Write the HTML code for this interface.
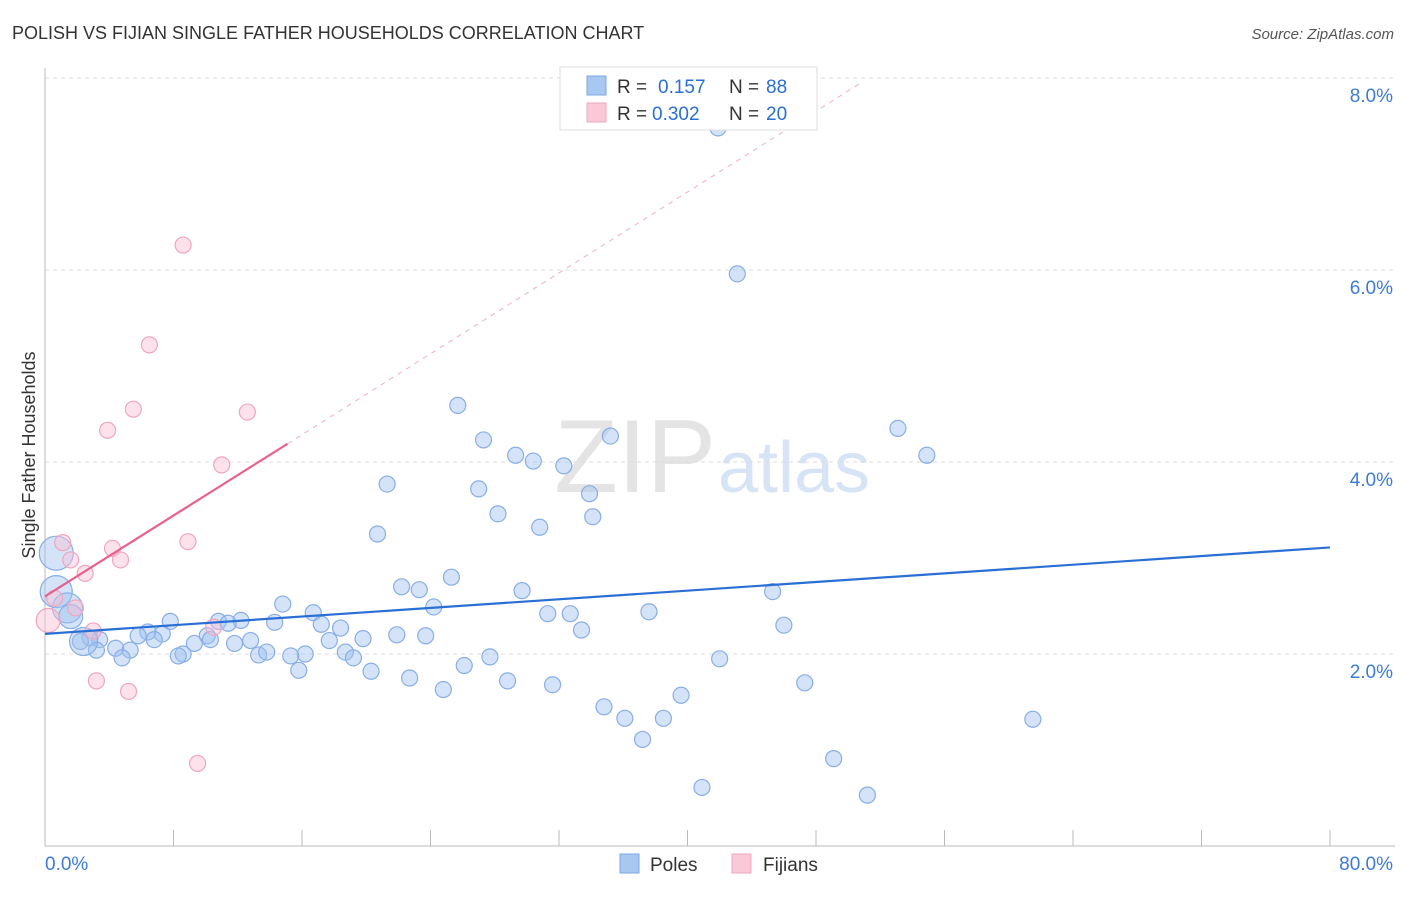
<!DOCTYPE html>
<html><head><meta charset="utf-8"><style>
body{margin:0;background:#fff;font-family:"Liberation Sans",sans-serif;}
svg text{font-family:"Liberation Sans",sans-serif;}
</style></head><body>
<svg id="c" width="1406" height="892">
<text x="12" y="39" font-size="18" fill="#333">POLISH VS FIJIAN SINGLE FATHER HOUSEHOLDS CORRELATION CHART</text>
<text x="1394" y="39" font-size="15" fill="#555" font-style="italic" text-anchor="end">Source: ZipAtlas.com</text>
<text x="716" y="492" font-size="104" fill="#e4e4e4" text-anchor="end" font-family="Liberation Serif">ZIP</text>
<text x="718" y="492" font-size="72" fill="#d6e4f6">atlas</text>
<text x="-455" y="35" transform="rotate(-90)" font-size="18" fill="#333" text-anchor="middle">Single Father Households</text>
<g id="grid"></g><g id="marks"></g>
<g>
<rect x="560" y="67" width="257" height="63" fill="#fff" stroke="#ddd"/>
<rect x="587" y="76" width="19" height="19" fill="#a8c8f2" stroke="#7da7e0"/>
<text x="617" y="93" font-size="19" fill="#333">R =</text><text x="658" y="93" font-size="19" fill="#2a6fd6">0.157</text>
<text x="729" y="93" font-size="19" fill="#333">N =</text><text x="766" y="93" font-size="19" fill="#2a6fd6">88</text>
<rect x="587" y="103" width="19" height="19" fill="#fbc8d8" stroke="#eca7bf"/>
<text x="617" y="120" font-size="19" fill="#333">R =</text><text x="652" y="120" font-size="19" fill="#2a6fd6">0.302</text>
<text x="729" y="120" font-size="19" fill="#333">N =</text><text x="766" y="120" font-size="19" fill="#2a6fd6">20</text>
</g>
<g>
<rect x="620" y="854" width="19" height="19" fill="#a8c8f2" stroke="#7da7e0"/>
<text x="650" y="871" font-size="19" fill="#333">Poles</text>
<rect x="732" y="854" width="19" height="19" fill="#fbc8d8" stroke="#eca7bf"/>
<text x="763" y="871" font-size="19" fill="#333">Fijians</text>
</g>
</svg>
<script>
const yTicks=[2,4,6,8];
const yTickLabels=["2.0%","4.0%","6.0%","8.0%"];
const xEndLabels=["0.0%","80.0%"];
const polesX=[41.9,43.1,25.7,53.1,54.9,27.3,35.2,29.3,30.4,32.3,21.3,27.0,33.9,28.2,34.1,30.8,20.7,25.3,22.2,23.3,29.7,45.3,24.2,14.8,16.7,31.3,32.7,37.6,7.8,10.8,12.2,14.3,11.4,17.2,18.4,46.0,33.4,6.4,7.3,21.9,23.7,19.8,5.8,10.1,12.8,9.3,11.8,10.3,6.8,17.7,3.4,2.8,2.2,4.4,5.3,3.2,18.7,16.2,15.3,13.3,13.8,8.6,8.3,19.2,4.8,27.7,42.0,26.1,15.8,20.3,22.7,28.8,47.3,31.6,24.8,39.6,34.8,36.1,38.5,61.5,37.2,49.1,40.9,51.2,0.7,0.7,1.4,1.6,2.4];
const polesY=[7.48,5.96,4.59,4.35,4.07,4.23,4.27,4.07,4.01,3.96,3.77,3.72,3.67,3.46,3.43,3.32,3.25,2.80,2.70,2.67,2.66,2.65,2.49,2.52,2.43,2.42,2.42,2.44,2.34,2.34,2.35,2.33,2.32,2.31,2.27,2.30,2.25,2.23,2.21,2.20,2.19,2.16,2.19,2.19,2.14,2.11,2.11,2.15,2.15,2.14,2.15,2.17,2.13,2.06,2.04,2.04,2.02,2.00,1.98,1.99,2.02,2.00,1.98,1.96,1.96,1.97,1.95,1.88,1.83,1.82,1.75,1.72,1.70,1.68,1.63,1.57,1.45,1.33,1.33,1.32,1.11,0.91,0.61,0.53,3.05,2.65,2.48,2.39,2.13];
const polesSize=[8,8,8,8,8,8,8,8,8,8,8,8,8,8,8,8,8,8,8,8,8,8,8,8,8,8,8,8,8,8,8,8,8,8,8,8,8,8,8,8,8,8,8,8,8,8,8,8,8,8,8,8,8,8,8,8,8,8,8,8,8,8,8,8,8,8,8,8,8,8,8,8,8,8,8,8,8,8,8,8,8,8,8,8,17,16,15,12,14];
const fijiX=[8.6,6.5,5.5,12.6,3.9,11.0,1.1,8.9,4.2,1.6,4.7,2.5,0.6,1.9,3.0,10.5,3.2,5.2,9.5,0.2];
const fijiY=[6.26,5.22,4.55,4.52,4.33,3.97,3.16,3.17,3.10,2.98,2.98,2.84,2.58,2.48,2.24,2.28,1.72,1.61,0.86,2.35];
const fijiSize=[8,8,8,8,8,8,8,8,8,8,8,8,8,8,8,8,8,8,8,12];
const polesTrend=[2.21,3.11];
const fijiTrend=[2.60,4.19,15.1,50.9];
const X=v=>45+v/80*1285, Y=v=>846-v*96;
const NS="http://www.w3.org/2000/svg";
function mk(t,a,p){const e=document.createElementNS(NS,t);for(const k in a)e.setAttribute(k,a[k]);p.appendChild(e);return e;}
const g=document.getElementById('grid'),m=document.getElementById('marks');
yTicks.forEach((t,i)=>{
 const l=mk('line',{x1:45,x2:1395,y1:Y(t),y2:Y(t),stroke:'#ddd','stroke-dasharray':'4,4'},g);
 
 
 const tx=mk('text',{x:1393,y:Y(t)+24,'font-size':19,fill:'#3d7bd8','text-anchor':'end'},g);
 tx.textContent=yTickLabels[i];
 
 
});
const ax=mk('line',{x1:45,x2:1395,y1:846,y2:846,stroke:'#bbb'},g);


const ay=mk('line',{x1:45,x2:45,y1:68,y2:846,stroke:'#bbb'},g);


for(let i=1;i<=10;i++){
 const t=mk('line',{x1:X(i*8),x2:X(i*8),y1:830,y2:846,stroke:'#bbb'},g);
 
 
}
[[0,'start',45],[80,'end',1393]].forEach((d,i)=>{
 const t=mk('text',{x:d[2],y:870,'font-size':19,fill:'#3d7bd8','text-anchor':d[1]},g);
 t.textContent=xEndLabels[i];
 
 
});
polesX.forEach((x,i)=>{
 const c=mk('circle',{cx:X(x),cy:Y(polesY[i]),r:polesSize[i],fill:'rgba(160,194,240,0.45)',stroke:'#88aee6','stroke-width':1.2},m);
 
 
});
fijiX.forEach((x,i)=>{
 const c=mk('circle',{cx:X(x),cy:Y(fijiY[i]),r:fijiSize[i],fill:'rgba(250,190,210,0.45)',stroke:'#eea6be','stroke-width':1.2},m);
 
 
});
const slope=(fijiTrend[1]-fijiTrend[0])/fijiTrend[2];
const fd=mk('line',{x1:X(fijiTrend[2]),y1:Y(fijiTrend[1]),x2:X(fijiTrend[3]),y2:Y(fijiTrend[0]+slope*fijiTrend[3]),stroke:'#eeb0c4','stroke-dasharray':'5,5','stroke-width':1},m);


const fl=mk('line',{x1:X(0),y1:Y(fijiTrend[0]),x2:X(fijiTrend[2]),y2:Y(fijiTrend[1]),stroke:'#e8608e','stroke-width':2.2},m);


const pl=mk('line',{x1:X(0),y1:Y(polesTrend[0]),x2:X(80),y2:Y(polesTrend[1]),stroke:'#2a6fd6','stroke-width':2.2},m);


</script>
</body></html>
